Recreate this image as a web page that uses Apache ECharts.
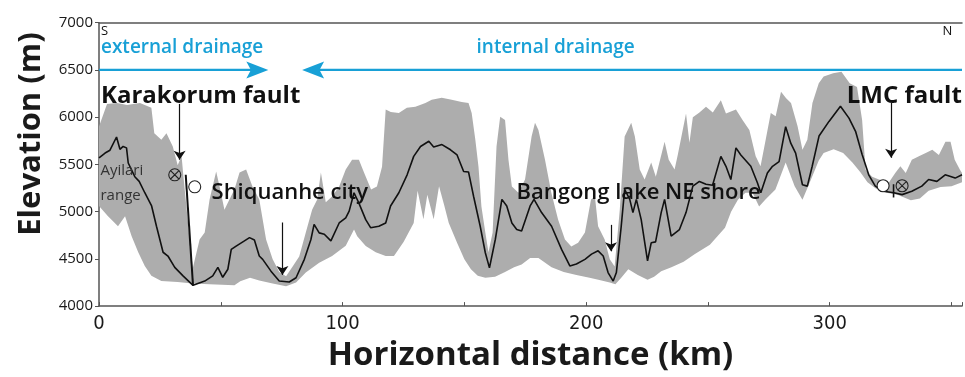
<!DOCTYPE html>
<html>
<head>
<meta charset="utf-8">
<script src="https://cdn.jsdelivr.net/npm/echarts@6/dist/echarts.min.js"></script>
<style>
  html, body { margin: 0; padding: 0; background: #fff; }
  #profile { width: 965px; height: 377px; }
</style>
</head>
<body>
<div id="profile"></div>
<script>
// swath profile, S -> N. [distance km, elevation m]
const medianProfile = [
  [0, 5570], [2.5, 5620], [4.5, 5650], [7.2, 5790], [8.6, 5660], [9.9, 5690], [11.3, 5675], [12, 5515],
  [14.7, 5370], [16.5, 5320], [18.8, 5200], [21.6, 5060], [23.6, 4845], [26.3, 4570], [28.3, 4530],
  [31.1, 4410], [34.5, 4320], [38.6, 4220], [40.6, 4240], [43.4, 4265], [46.7, 4320], [48.8, 4410],
  [50.8, 4305], [52.9, 4390], [54.3, 4600], [56.3, 4635], [59.7, 4690], [61.8, 4725], [63.8, 4700],
  [65.8, 4530], [67.2, 4495], [70.6, 4370], [74, 4265], [78.1, 4255], [80.9, 4300], [84.3, 4495],
  [87, 4705], [88.3, 4865], [90.4, 4775], [92.5, 4760], [95.2, 4690], [98.6, 4880], [101.3, 4935],
  [102.7, 5005], [104.7, 5200], [106.7, 5090], [109.5, 4915], [111.5, 4830], [114.9, 4845],
  [117.7, 4880], [119.7, 5060], [123.1, 5200], [126.5, 5390], [129.2, 5585], [132, 5690],
  [135.4, 5745], [137.4, 5685], [140.8, 5710], [144.3, 5655], [147, 5600], [149.7, 5425],
  [151.7, 5420], [153.8, 5160], [156.5, 4845], [158.6, 4565], [160.3, 4405], [162.7, 4705],
  [165.4, 5130], [167.4, 5060], [169.5, 4880], [171.5, 4810], [173.5, 4795], [177, 5060],
  [178.6, 5130], [181.7, 4990], [185.8, 4845], [189.9, 4600], [193.3, 4425], [196, 4445],
  [199.5, 4495], [202.2, 4550], [204.9, 4585], [207, 4530], [209, 4355], [211.1, 4265],
  [212.4, 4355], [214.4, 4845], [215.8, 5235], [217.9, 5130], [219.2, 4990], [220.6, 5130],
  [222.6, 4915], [225.2, 4480], [226.7, 4670], [228.5, 4680], [230.8, 4990], [232.2, 5130],
  [234.9, 4740], [238.3, 4810], [241, 4990], [243.8, 5270], [246.5, 5320], [249.2, 5290],
  [251.9, 5280], [255.3, 5585], [257.4, 5480], [259.4, 5340], [261.5, 5675], [263.5, 5600],
  [267.6, 5480], [270.3, 5305], [271.7, 5200], [274.4, 5410], [276.5, 5480], [279.2, 5530],
  [281.9, 5900], [284, 5725], [286, 5620], [288.8, 5285], [290.8, 5270], [292.8, 5480],
  [295.6, 5800], [299.7, 5955], [304.4, 6115], [307.9, 5990], [310.6, 5850], [313.3, 5605],
  [316, 5390], [318.7, 5270], [322.2, 5215], [326.3, 5200], [329.7, 5180], [333.7, 5215],
  [337.8, 5270], [340.6, 5340], [344, 5320], [347.4, 5390], [351.5, 5355], [354.3, 5390]
];

const swathTop = [
  [0, 5900], [3.3, 6140], [7.4, 6150], [11.5, 6130], [16.8, 6150], [21.5, 6100], [22.7, 5830],
  [25.6, 5760], [27.7, 5830], [30.3, 5690], [32.3, 5490], [33.9, 5590], [34.6, 5390],
  [38.4, 4390], [41.3, 4705], [43.4, 4780], [45.4, 5128], [48.1, 5425], [49.5, 5265],
  [51.5, 5020], [53.6, 5130], [55.6, 5235], [57.7, 5415], [60.4, 5445], [63, 5265],
  [65.8, 5128], [68.6, 4705], [71.3, 4495], [74, 4360], [76.8, 4315], [79.5, 4420],
  [82.2, 4525], [84.9, 4780], [87.5, 5020], [89.6, 5128], [91.1, 5415], [93.1, 5100],
  [95.7, 5160], [98.6, 5265], [101.3, 5445], [103.9, 5550], [106.7, 5550], [108.8, 5415],
  [111.7, 5235], [114.1, 5265], [116.2, 5475], [117.7, 6080], [119.8, 6055], [123.1, 6045],
  [126.4, 6100], [129.9, 6110], [134, 6150], [136.6, 6185], [140.7, 6205], [144.8, 6185],
  [148.9, 6160], [151.7, 6150], [153, 6045], [154.5, 5760], [155.8, 5475], [157, 5055],
  [158.6, 4780], [159.9, 4570], [161.6, 4780], [163.2, 5690], [164.7, 6005], [166.7, 5970],
  [168.1, 5550], [169.5, 5265], [172.2, 5200], [174.9, 5340], [177.6, 5795], [179, 5940],
  [180.4, 5865], [183.1, 5550], [185.7, 5200], [188.5, 4915], [191.3, 4705], [193.9, 4630],
  [196.7, 4670], [199.5, 4780], [202, 5128], [203.6, 5160], [204.9, 4845], [207.6, 4705],
  [209.7, 4495], [211.7, 4420], [213.8, 5020], [215.8, 5795], [218.5, 5940], [220, 5795],
  [222, 5445], [224, 5340], [226.7, 5520], [228.6, 5370], [232.2, 5740], [233.9, 5550],
  [236.3, 5445], [237.6, 5600], [241, 6040], [242.4, 5730], [243.8, 6000], [246.5, 6050],
  [249.2, 6110], [252, 6050], [255.3, 6180], [257.4, 6040], [261.5, 6080], [264.2, 5970],
  [267, 5865], [269.6, 5585], [271.6, 5480], [273.7, 5760], [275.8, 6045], [277.8, 6010],
  [280, 6270], [282.1, 6200], [284.1, 6150], [286.8, 5905], [288.8, 5655], [290.8, 5760],
  [292.9, 6150], [295.5, 6360], [297.5, 6430], [301.4, 6465], [304.8, 6480], [308.2, 6360],
  [311.2, 6320], [313.3, 5970], [314.7, 5445], [317.4, 5370], [320.2, 5340], [324.2, 5305],
  [326.9, 5410], [329, 5480], [331.2, 5410], [333.7, 5550], [336.6, 5585], [339.4, 5620],
  [342.1, 5655], [344.8, 5600], [347.5, 5740], [349.6, 5740], [351.3, 5550], [353.4, 5445],
  [354.3, 5410]
];

const swathBottom = [
  [0, 5060], [3.7, 4950], [7.8, 4845], [10.7, 4950], [13.4, 4740], [16.1, 4570], [18.8, 4425],
  [21.5, 4320], [25.6, 4265], [32.3, 4255], [38.4, 4240], [45.4, 4230], [55.6, 4220],
  [58, 4262], [62, 4300], [65.8, 4270], [71.3, 4240], [76.8, 4210], [80.9, 4250], [84.9, 4355],
  [90.4, 4460], [95.7, 4530], [101.3, 4640], [104.7, 4810], [106, 4740], [109.5, 4635],
  [113.6, 4570], [117.7, 4530], [121.1, 4530], [125.1, 4680], [129.2, 4880], [130.8, 5220],
  [133.2, 4920], [134.8, 5180], [137.4, 4920], [139.6, 5270], [141.8, 5060], [143.6, 4880],
  [147, 4670], [150, 4495], [152.7, 4390], [155.5, 4320], [158.6, 4300], [162.6, 4310],
  [166.7, 4360], [170.4, 4410], [173.5, 4440], [177, 4510], [180.4, 4510], [185.8, 4410],
  [190.8, 4360], [196, 4330], [201.4, 4300], [205, 4280], [209.7, 4250], [212, 4230],
  [214.4, 4300], [217.3, 4390], [221.2, 4330], [225.2, 4280], [227.9, 4310], [230.8, 4370],
  [235, 4410], [240, 4470], [244.5, 4550], [250.8, 4650], [257, 4830], [259.5, 5000],
  [262.3, 5125], [265.4, 5200], [268.3, 5200], [271, 5055], [273.7, 5130], [277.7, 5235],
  [281.9, 5520], [285.6, 5270], [288.8, 5125], [291.5, 5290], [295.5, 5540], [297.5, 5620],
  [301.6, 5660], [305.5, 5620], [309.3, 5520], [312.5, 5420], [315.5, 5310], [319.2, 5240],
  [323.3, 5200], [327.8, 5180], [333.3, 5120], [337, 5140], [340.6, 5220], [345.5, 5260],
  [350, 5270], [354.3, 5310]
];

// fault traces drawn on the section
const karakorumTrace = [[35.6, 5390], [38.6, 4220]];
const lmcTrace = [[326.2, 5290], [326.2, 5150]];

const xTickLabels = [0, 100, 200, 300];
const yTicks = [4000, 4500, 5000, 5500, 6000, 6500, 7000];

const chart = echarts.init(document.getElementById('profile'));

const FONT = '"Open Sans", "Noto Sans", sans-serif';
const NARROW = '"Liberation Sans Narrow", "DejaVu Sans Condensed", "Roboto", sans-serif';
const BLUE = '#18a0d6';
const GREY_AXIS = '#555';

function arrowDown(km, from, to) {
  return [{ coord: [km, from] }, { coord: [km, to] }];
}

function txt(name, km, elev, fontSize, weight, color) {
  return {
    name: name,
    value: [km, elev],
    label: { fontSize: fontSize, fontWeight: weight, color: color || '#111' }
  };
}

chart.setOption({
  animation: false,
  grid: { left: 99, right: 0, top: 22.7, bottom: 70 },
  xAxis: [{
    type: 'value', min: 0, max: 354.3, interval: 50,
    axisLine: { lineStyle: { color: GREY_AXIS, width: 1.5 } },
    axisTick: { inside: true, length: 4, lineStyle: { color: GREY_AXIS } },
    axisLabel: {
      margin: 8, fontSize: 20, fontFamily: NARROW, color: '#1a1a1a',
      formatter: v => xTickLabels.indexOf(v) >= 0 ? String(v) : ''
    },
    splitLine: { show: false },
    name: 'Horizontal distance (km)', nameLocation: 'middle', nameGap: 30,
    nameTextStyle: { fontSize: 33, fontWeight: 'bold', fontFamily: FONT, color: '#1a1a1a' }
  }, {
    type: 'value', position: 'top', min: 0, max: 354.3,
    axisLine: { show: true, lineStyle: { color: GREY_AXIS, width: 1.5 } },
    axisTick: { show: false }, axisLabel: { show: false }, splitLine: { show: false }
  }],
  yAxis: {
    type: 'value', min: 4000, max: 7000, interval: 500,
    axisLine: { show: true, lineStyle: { color: GREY_AXIS, width: 1.5 } },
    axisTick: { show: true, length: 4, lineStyle: { color: GREY_AXIS } },
    axisLabel: {
      margin: 6, fontSize: 15, fontFamily: FONT, color: '#1a1a1a',
      formatter: v => yTicks.indexOf(v) >= 0 ? String(v) : ''
    },
    splitLine: { show: false }
  },
  graphic: [{
    type: 'text', x: 31, y: 134, rotation: Math.PI / 2,
    style: {
      text: 'Elevation (m)', fill: '#1a1a1a', fontSize: 31, fontWeight: 'bold',
      fontFamily: FONT, align: 'center', verticalAlign: 'middle'
    }
  }],
  series: [
    {
      // min-max swath as one polygon
      type: 'custom',
      data: [0],
      silent: true,
      z: 1,
      renderItem: function (params, api) {
        const pts = swathTop.map(p => api.coord(p))
          .concat(swathBottom.slice().reverse().map(p => api.coord(p)));
        return { type: 'polygon', shape: { points: pts }, style: { fill: '#adadad' } };
      }
    },
    {
      type: 'line', data: medianProfile, symbol: 'none', z: 3, silent: true,
      lineStyle: { color: '#111', width: 1.6 },
      markLine: {
        silent: true, symbol: ['none', 'arrow'], symbolSize: 9, animation: false,
        label: { show: false },
        lineStyle: { color: '#111', width: 1.2, type: 'solid' },
        data: [
          arrowDown(33.1, 6140, 5550),
          arrowDown(75.3, 4885, 4330),
          arrowDown(210.2, 4860, 4580),
          arrowDown(325.2, 6150, 5570)
        ]
      }
    },
    {
      type: 'line', data: karakorumTrace, symbol: 'none', z: 4, silent: true,
      lineStyle: { color: '#111', width: 2 }
    },
    {
      type: 'line', data: lmcTrace, symbol: 'none', z: 4, silent: true,
      lineStyle: { color: '#111', width: 1.6 }
    },
    {
      // drainage arrows at the 6500 m level
      type: 'line', z: 4, silent: true,
      lineStyle: { color: BLUE, width: 2.2 },
      symbol: 'none',
      data: [
        { value: [0, 6500], symbol: 'none' },
        { value: [65.0, 6500], symbol: 'path://M0,0 L24,8 L0,16 L5,8 Z', symbolSize: [22, 17],
          itemStyle: { color: BLUE } }
      ]
    },
    {
      type: 'line', z: 4, silent: true,
      lineStyle: { color: BLUE, width: 2.2 },
      symbol: 'none',
      data: [
        { value: [87.9, 6500], symbol: 'path://M24,0 L0,8 L24,16 L19,8 Z', symbolSize: [22, 17],
          itemStyle: { color: BLUE } },
        { value: [354.3, 6500], symbol: 'none' }
      ]
    },
    {
      // strike-slip symbols: into page
      type: 'scatter', z: 5, silent: true,
      symbol: 'path://M0,-10 A10,10 0 1,1 0,10 A10,10 0 1,1 0,-10 Z M-7,-7 L7,7 M7,-7 L-7,7',
      symbolSize: 12,
      itemStyle: { color: 'rgba(255,255,255,0)', borderColor: '#222', borderWidth: 1.1, opacity: 1 },
      data: [[31.1, 5390], [329.7, 5274]]
    },
    {
      // out of page
      type: 'scatter', z: 5, silent: true,
      symbol: 'circle', symbolSize: 12,
      itemStyle: { color: '#fff', borderColor: '#222', borderWidth: 1.1, opacity: 1 },
      data: [[39.3, 5263], [321.9, 5274]]
    },
    {
      type: 'scatter', z: 6, silent: true, symbolSize: 0,
      itemStyle: { opacity: 1 },
      label: {
        show: true, position: [0, 0], align: 'left', verticalAlign: 'middle',
        fontFamily: FONT, formatter: p => p.name
      },
      data: [
        txt('S', 0.8, 6905, 13, 'normal'),
        txt('N', 346.3, 6905, 13, 'normal'),
        txt('external drainage', 0.8, 6735, 19, 600, BLUE),
        txt('internal drainage', 155, 6735, 19, 600, BLUE),
        txt('Karakorum fault', 0.8, 6220, 24, 'bold'),
        txt('LMC fault', 307.0, 6220, 24, 'bold'),
        {
          name: 'Ayilari\nrange', value: [0.6, 5300],
          label: { fontSize: 15, fontWeight: 'normal', color: '#333', lineHeight: 25 }
        },
        txt('Shiquanhe city', 46.2, 5195, 22, 600),
        txt('Bangong lake NE shore', 171.4, 5205, 22, 600)
      ]
    }
  ]
});
</script>
</body>
</html>
